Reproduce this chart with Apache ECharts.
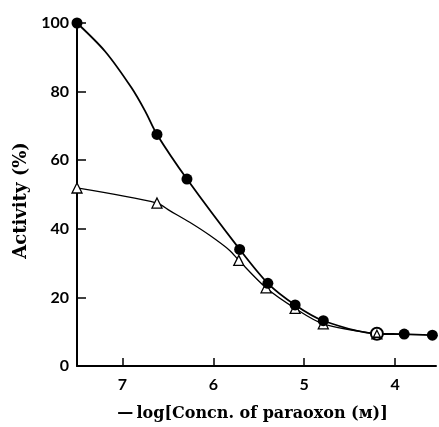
<!DOCTYPE html>
<html>
<head>
<meta charset="utf-8">
<script src="https://cdn.jsdelivr.net/npm/echarts@6/dist/echarts.min.js"></script>
<style>
  html, body { margin: 0; padding: 0; background: #fff; }
  #chart { width: 439px; height: 427px; }
</style>
</head>
<body>
<div id="chart"></div>
<script>
// measured points: -log[paraoxon] and activity (%)
var circleX = [7.5, 6.62, 6.29, 5.71, 5.40, 5.10, 4.79, 4.20, 3.90, 3.59];
var circleY = [100, 67.5, 54.5, 34.0, 24.1, 17.8, 13.2, 9.4, 9.3, 9.0];
var triX = [7.5, 6.62, 5.72, 5.42, 5.10, 4.79, 4.20];
var triY = [51.9, 47.5, 30.8, 22.8, 16.8, 12.3, 9.4];
// hand-drawn curves
var circleCurveX = [7.5, 7.19, 6.90, 6.75, 6.62, 6.29, 5.71, 5.40, 5.10, 4.79, 4.20, 3.90, 3.59];
var circleCurveY = [100, 91.7, 81.1, 74.3, 67.5, 54.5, 34.0, 24.1, 17.8, 13.2, 9.4, 9.3, 9.0];
var triCurveX = [7.5, 6.62, 6.48, 6.26, 6.04, 5.82, 5.72, 5.42, 5.10, 4.79, 4.20];
var triCurveY = [51.9, 47.5, 45.3, 41.9, 38.1, 33.7, 30.8, 22.8, 16.8, 12.3, 9.4];
var xTicks = [4, 5, 6, 7];
var openIdx = 7; // point where both curves meet, drawn as open circle

var chart = echarts.init(document.getElementById('chart'));

function pairs(xs, ys) {
  return xs.map(function (x, i) { return [x, ys[i]]; });
}

var circleData = circleX.map(function (x, i) {
  var item = { value: [x, circleY[i]] };
  if (i === openIdx) {
    item.symbolSize = 12;
    item.itemStyle = { color: '#fff', borderColor: '#000', borderWidth: 2, opacity: 1 };
  }
  return item;
});
var triData = pairs(triX, triY);
var lastTri = [triData[triData.length - 1]];

var labelFont = { color: '#000', fontSize: 16, fontWeight: 'bold', fontFamily: 'Lato' };
var nameFont = { color: '#000', fontSize: 16, fontWeight: 'bold', fontFamily: 'DejaVu Serif' };

var option = {
  backgroundColor: '#fff',
  animation: false,
  grid: { left: 77, right: 3, top: 23, bottom: 59 },
  xAxis: {
    type: 'value',
    inverse: true,
    min: 3.55,
    max: 7.5,
    name: '\u2014\u2009log[Concn. of paraoxon (\u043c)]',
    nameLocation: 'middle',
    nameGap: 40,
    nameTextStyle: Object.assign({ padding: [0, 8, 0, 0] }, nameFont),
    axisLine: { lineStyle: { color: '#000', width: 2 } },
    axisTick: { inside: true, length: 8, lineStyle: { color: '#000', width: 1.5 }, customValues: xTicks },
    axisLabel: Object.assign({ margin: 11, customValues: xTicks }, labelFont),
    splitLine: { show: false }
  },
  yAxis: {
    type: 'value',
    min: 0,
    max: 100,
    interval: 20,
    name: 'Activity (%)',
    nameLocation: 'middle',
    nameGap: 47,
    nameTextStyle: Object.assign({}, nameFont, { fontSize: 18, padding: [0, 12, 0, 0] }),
    axisLine: { show: true, lineStyle: { color: '#000', width: 2 } },
    axisTick: { show: true, inside: true, length: 9, lineStyle: { color: '#000', width: 1.5 } },
    axisLabel: Object.assign({ margin: 8 }, labelFont),
    splitLine: { show: false }
  },
  series: [
    {
      name: 'triangle curve',
      type: 'line',
      z: 1,
      smooth: 0.3,
      symbol: 'none',
      data: pairs(triCurveX, triCurveY),
      lineStyle: { color: '#000', width: 1.3 }
    },
    {
      name: 'circle curve',
      type: 'line',
      z: 1,
      smooth: 0.3,
      symbol: 'none',
      data: pairs(circleCurveX, circleCurveY),
      lineStyle: { color: '#000', width: 1.8 }
    },
    {
      name: 'triangle',
      type: 'scatter',
      z: 2,
      data: triData,
      symbol: 'triangle',
      symbolSize: 10,
      itemStyle: { color: '#fff', borderColor: '#000', borderWidth: 1.3, opacity: 1 }
    },
    {
      name: 'circle',
      type: 'scatter',
      z: 3,
      data: circleData,
      symbol: 'circle',
      symbolSize: 11,
      itemStyle: { color: '#000', opacity: 1 }
    },
    {
      name: 'overlap',
      type: 'scatter',
      z: 4,
      data: lastTri,
      symbol: 'triangle',
      symbolSize: 7,
      itemStyle: { color: '#fff', borderColor: '#000', borderWidth: 1.3, opacity: 1 }
    }
  ]
};
chart.setOption(option);
</script>
</body>
</html>
